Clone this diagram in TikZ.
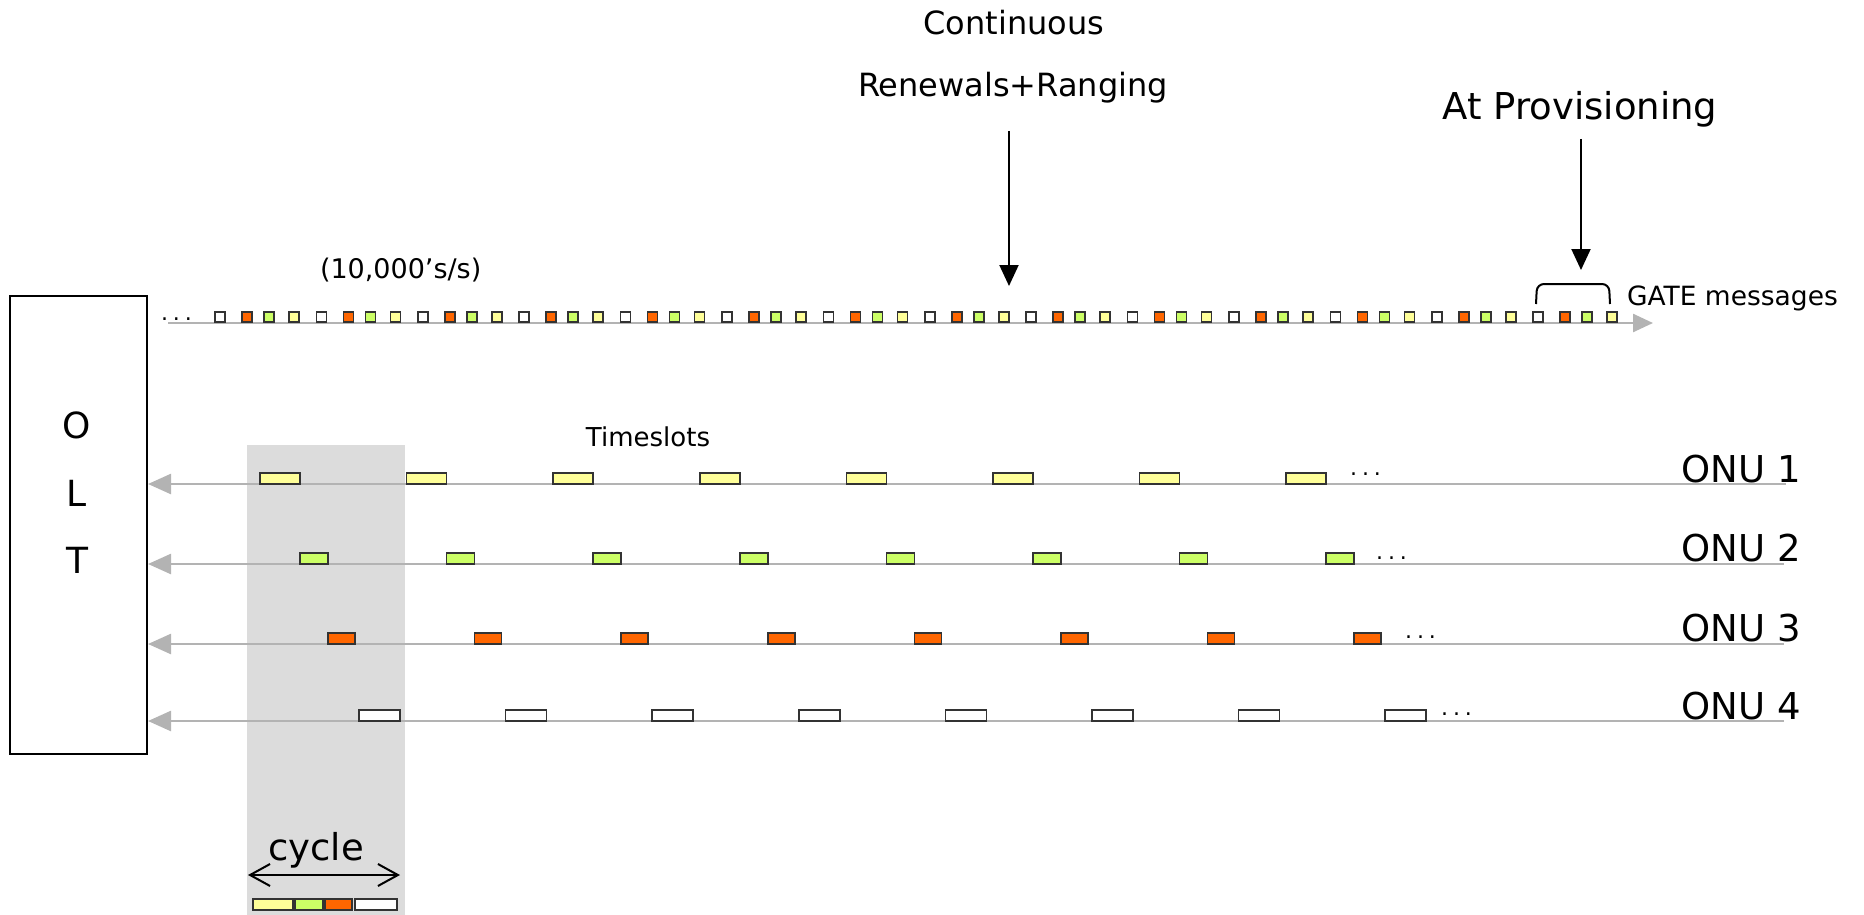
\documentclass[tikz,border=0pt]{standalone}
\usepackage{fontspec}
\setmainfont{DejaVu Sans}
\usetikzlibrary{arrows.meta}

\definecolor{slotyellow}{HTML}{FFFF99}
\definecolor{slotgreen}{HTML}{CCFF66}
\definecolor{slotorange}{HTML}{FF6600}
\definecolor{linegray}{HTML}{B3B3B3}
\definecolor{windowgray}{HTML}{DCDCDC}
\definecolor{slotedge}{HTML}{333333}

\newcommand{\fsz}[1]{\fontsize{#1}{#1}\selectfont}
\newcommand{\trail}{.\kern5pt.\kern5pt.}

\begin{document}
\begin{tikzpicture}[x=1pt,y=-1pt,
  txt/.style={inner sep=0pt, outer sep=0pt, text=black},
  slot/.style={draw=slotedge, line width=1.5pt, inner sep=0pt, outer sep=0pt,
               minimum height=11pt, anchor=south west},
  msg/.style={draw=slotedge, line width=1.5pt, inner sep=0pt, outer sep=0pt,
              minimum width=10pt, minimum height=10pt, anchor=south west},
  bus/.style={draw=linegray, line width=2.5pt},
  upstream/.style={bus, -{Triangle[length=23pt,width=20pt]}},
  downstream/.style={bus, -{Triangle[length=20pt,width=18pt]}},
  pointer/.style={draw=black, line width=2pt, -{Triangle[length=21pt,width=19pt]}},
  more/.style={txt, anchor=base west, font=\fsz{22}},
]
\useasboundingbox (0,0) rectangle (1864,915);

% cycle window
\node[fill=windowgray, inner sep=0pt, outer sep=0pt, minimum width=158pt,
      minimum height=470pt, anchor=north west] (window) at (247,445) {};

% OLT
\node[draw=black, line width=2pt, inner sep=0pt, minimum width=137pt,
      minimum height=458pt, anchor=north west] (olt) at (9,295) {};
\node[txt, anchor=base, font=\fsz{36}] (oltO) at (77,438) {O};
\node[txt, anchor=base, font=\fsz{36}] (oltL) at (77,506) {L};
\node[txt, anchor=base, font=\fsz{36}] (oltT) at (77,573) {T};

% downstream GATE stream
\coordinate (dsStart) at (168,323);
\coordinate (dsEnd) at (1653,323);
\draw[downstream] (dsStart) -- (dsEnd);
\foreach \g in {0,...,13} {
  \pgfmathsetmacro\bx{215+101.4*\g}
  \node[msg, fill=white]       (gw\g) at (\bx,322) {};
  \node[msg, fill=slotorange]  (go\g) at (\bx+27,322) {};
  \node[msg, fill=slotgreen]   (gg\g) at (\bx+49,322) {};
  \node[msg, fill=slotyellow]  (gy\g) at (\bx+74,322) {};
}
\node[more] (dsDots) at (161,320.5) {\trail};
\node[txt, anchor=base west, font=\fsz{27}] (rate) at (320,278) {(10,000’s/s)};

% GATE messages bracket
\draw[line width=2pt, rounded corners=7pt] (1536,304) -- (1537,284) -- (1609,284) -- (1610,304);
\node[txt, anchor=base west, font=\fsz{26.5}] (gate) at (1627,305) {GATE messages};

% labels and pointers at the top
\node[txt, anchor=base, font=\fsz{32}] (cont) at (1014,35) {Continuous};
\node[txt, anchor=base, font=\fsz{32}] (renew) at (1013,97) {Renewals+Ranging};
\node[txt, anchor=base, font=\fsz{37}] (prov) at (1580,120) {At Provisioning};
\coordinate (contFrom) at (1009,131);
\coordinate (contTo) at (1009,286);
\coordinate (provFrom) at (1581,139);
\coordinate (provTo) at (1581,270);
\draw[pointer] (contFrom) -- (contTo);
\draw[pointer] (provFrom) -- (provTo);

% upstream lines from the ONUs
\coordinate (onuA) at (1786,484);
\coordinate (onuB) at (1784,564);
\coordinate (onuC) at (1784,644);
\coordinate (onuD) at (1784,721);
\draw[upstream] (onuA) -- (onuA -| olt.east);
\draw[upstream] (onuB) -- (onuB -| olt.east);
\draw[upstream] (onuC) -- (onuC -| olt.east);
\draw[upstream] (onuD) -- (onuD -| olt.east);

\node[txt, anchor=base east, font=\fsz{37}] (onu1) at (1801,482) {ONU 1};
\node[txt, anchor=base east, font=\fsz{37}] (onu2) at (1801,561) {ONU 2};
\node[txt, anchor=base east, font=\fsz{37}] (onu3) at (1801,641) {ONU 3};
\node[txt, anchor=base east, font=\fsz{37}] (onu4) at (1801,719) {ONU 4};

% timeslots
\foreach \k in {0,...,7} {
  \pgfmathsetmacro\sx{260+146.6*\k}
  \node[slot, fill=slotyellow, minimum width=40pt] (ya\k) at (\sx,484) {};
  \node[slot, fill=slotgreen,  minimum width=28pt] (gb\k) at (\sx+40,564) {};
  \node[slot, fill=slotorange, minimum width=27pt] (oc\k) at (\sx+68,644) {};
  \node[slot, fill=white,      minimum width=41pt] (wd\k) at (\sx+99,721) {};
}
\node[more] (dotsA) at (1350,475.5) {\trail};
\node[more] (dotsB) at (1376,559.5) {\trail};
\node[more] (dotsC) at (1405,638.5) {\trail};
\node[more] (dotsD) at (1441,715.5) {\trail};
\node[txt, anchor=base, font=\fsz{26}] (slotsLbl) at (648,446) {Timeslots};

% cycle span and its legend
\node[txt, anchor=base, font=\fsz{37}] (cycleLbl) at (316,860) {cycle};
\coordinate (cycL) at (248,875);
\coordinate (cycR) at (400,875);
\draw[line width=2pt, {Straight Barb[length=20pt,width=22pt]}-{Straight Barb[length=20pt,width=22pt]}] (cycL) -- (cycR);
\node[slot, fill=slotyellow, minimum width=40pt] (legY) at (253,910) {};
\node[slot, fill=slotgreen,  minimum width=28pt] (legG) at (295,910) {};
\node[slot, fill=slotorange, minimum width=27pt] (legO) at (325,910) {};
\node[slot, fill=white,      minimum width=42pt] (legW) at (355,910) {};
\end{tikzpicture}
\end{document}
